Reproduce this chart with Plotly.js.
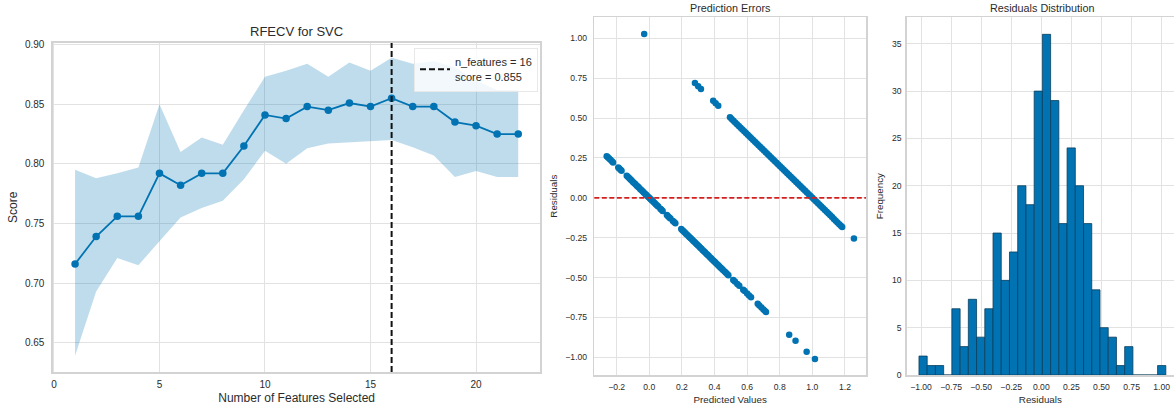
<!DOCTYPE html>
<html>
<head>
<meta charset="utf-8">
<script src="https://cdn.plot.ly/plotly-3.0.1.min.js"></script>
<style>html,body{margin:0;padding:0;background:#fff;}#chart{width:1174px;height:410px;}</style>
</head>
<body>
<div id="chart"></div>
<script>
// ---------- Panel 1: RFECV for SVC ----------
const nFeatures = [1,2,3,4,5,6,7,8,9,10,11,12,13,14,15,16,17,18,19,20,21,22];
const scoreMean = [0.716,0.739,0.756,0.756,0.792,0.782,0.792,0.792,0.815,0.841,0.838,0.848,0.845,0.851,0.848,0.855,0.848,0.848,0.835,0.832,0.825,0.825];
const scoreUpper = [0.795,0.788,0.792,0.797,0.850,0.810,0.822,0.816,0.845,0.873,0.878,0.884,0.873,0.885,0.878,0.889,0.884,0.886,0.881,0.870,0.862,0.862];
const scoreLower = [0.639,0.693,0.721,0.715,0.735,0.755,0.763,0.769,0.787,0.811,0.800,0.813,0.817,0.818,0.819,0.820,0.814,0.807,0.789,0.794,0.789,0.789];
const bestN = 16;
const bestScore = 0.855;

// ---------- Panel 2: Prediction Errors ----------
// points with true value 0
const predA = [-0.261,-0.254,-0.246,-0.238,-0.229,-0.222,-0.190,-0.184,-0.176,-0.170,-0.138,-0.130,-0.122,-0.115,-0.108,-0.100,-0.093,-0.086,-0.078,-0.071,-0.064,-0.056,-0.049,-0.041,-0.034,-0.026,-0.019,-0.012,-0.004,0.003,0.010,0.017,0.025,0.033,0.040,0.048,0.055,0.068,0.075,0.082,0.108,0.115,0.123,0.130,0.145,0.152,0.160,0.196,0.203,0.210,0.218,0.225,0.232,0.240,0.247,0.254,0.262,0.269,0.276,0.284,0.291,0.298,0.306,0.313,0.320,0.328,0.335,0.342,0.350,0.357,0.364,0.372,0.379,0.386,0.394,0.401,0.408,0.416,0.423,0.430,0.438,0.445,0.452,0.462,0.470,0.478,0.485,0.515,0.525,0.540,0.552,0.576,0.585,0.600,0.612,0.624,0.665,0.675,0.688,0.700,0.709,0.716,0.858,0.897,0.965,1.016];
const residA = [0.261,0.254,0.246,0.238,0.229,0.222,0.190,0.184,0.176,0.170,0.138,0.130,0.122,0.115,0.108,0.100,0.093,0.086,0.078,0.071,0.064,0.056,0.049,0.041,0.034,0.026,0.019,0.012,0.004,-0.003,-0.010,-0.017,-0.025,-0.033,-0.040,-0.048,-0.055,-0.068,-0.075,-0.082,-0.108,-0.115,-0.123,-0.130,-0.145,-0.152,-0.160,-0.196,-0.203,-0.210,-0.218,-0.225,-0.232,-0.240,-0.247,-0.254,-0.262,-0.269,-0.276,-0.284,-0.291,-0.298,-0.306,-0.313,-0.320,-0.328,-0.335,-0.342,-0.350,-0.357,-0.364,-0.372,-0.379,-0.386,-0.394,-0.401,-0.408,-0.416,-0.423,-0.430,-0.438,-0.445,-0.452,-0.462,-0.470,-0.478,-0.485,-0.515,-0.525,-0.540,-0.552,-0.576,-0.585,-0.600,-0.612,-0.624,-0.665,-0.675,-0.688,-0.700,-0.709,-0.716,-0.858,-0.897,-0.965,-1.010];
// points with true value 1
const predB = [0.280,0.300,0.317,0.392,0.407,0.423,0.495,0.505,0.516,0.527,0.538,0.549,0.560,0.571,0.582,0.593,0.604,0.615,0.626,0.637,0.648,0.659,0.670,0.681,0.692,0.703,0.714,0.725,0.736,0.747,0.758,0.769,0.780,0.791,0.802,0.813,0.824,0.835,0.846,0.857,0.868,0.879,0.890,0.901,0.912,0.923,0.934,0.945,0.956,0.967,0.978,0.989,1.000,1.011,1.022,1.033,1.044,1.055,1.066,1.077,1.088,1.099,1.110,1.121,1.132,1.143,1.154,1.165,1.175,1.183,1.255,-0.031];
const residB = [0.720,0.700,0.683,0.608,0.593,0.577,0.505,0.495,0.484,0.473,0.462,0.451,0.440,0.429,0.418,0.407,0.396,0.385,0.374,0.363,0.352,0.341,0.330,0.319,0.308,0.297,0.286,0.275,0.264,0.253,0.242,0.231,0.220,0.209,0.198,0.187,0.176,0.165,0.154,0.143,0.132,0.121,0.110,0.099,0.088,0.077,0.066,0.055,0.044,0.033,0.022,0.011,0.000,-0.011,-0.022,-0.033,-0.044,-0.055,-0.066,-0.077,-0.088,-0.099,-0.110,-0.121,-0.132,-0.143,-0.154,-0.165,-0.175,-0.183,-0.255,1.027];

// ---------- Panel 3: Residuals Distribution ----------
const histCounts = [2,1,1,0,7,3,8,4,7,15,10,13,20,18,30,36,29,16,24,20,16,9,5,4,1,3,0,0,0,1];
const binStart = -1.017;
const binWidth = 0.0684;

// ---------- styles ----------
const BLUE = '#0173B2';
const FONT = 'Arial, "Liberation Sans", Helvetica, sans-serif';
const TXT = '#2b2b2b';
const GRID = '#e2e2e2';
const SPINE = '#d3d3d3';
const W = 1174, H = 410;
const px = v => v / W;
const py = v => 1 - v / H;

const rfecvRange = [0.6254, 0.9016];
const binCenters = histCounts.map((c, i) => binStart + (i + 0.5) * binWidth);

const traces = [
  {x: nFeatures, y: scoreLower, type: 'scatter', mode: 'lines', line: {width: 0, color: BLUE},
   showlegend: false, hoverinfo: 'skip', xaxis: 'x', yaxis: 'y'},
  {x: nFeatures, y: scoreUpper, type: 'scatter', mode: 'lines', line: {width: 0, color: BLUE},
   fill: 'tonexty', fillcolor: 'rgba(1,115,178,0.25)', showlegend: false, hoverinfo: 'skip', xaxis: 'x', yaxis: 'y'},
  {x: nFeatures, y: scoreMean, type: 'scatter', mode: 'lines+markers', line: {width: 1.8, color: BLUE},
   marker: {size: 7.5, color: BLUE}, showlegend: false, xaxis: 'x', yaxis: 'y'},
  {x: [bestN, bestN], y: rfecvRange, type: 'scatter', mode: 'lines',
   line: {width: 2, color: '#111', dash: '6px,3px'},
   name: 'n_features = ' + bestN + '<br>score = ' + bestScore.toFixed(3), showlegend: true, xaxis: 'x', yaxis: 'y'},
  {x: predA, y: residA, type: 'scatter', mode: 'markers', marker: {size: 6.5, color: BLUE},
   showlegend: false, xaxis: 'x2', yaxis: 'y2'},
  {x: predB, y: residB, type: 'scatter', mode: 'markers', marker: {size: 6.5, color: BLUE},
   showlegend: false, xaxis: 'x2', yaxis: 'y2'},
  {x: binCenters, y: histCounts, type: 'bar', width: binWidth,
   marker: {color: BLUE, line: {color: '#0b3f5e', width: 0.8}}, showlegend: false, xaxis: 'x3', yaxis: 'y3'}
];

const axBase = {
  showgrid: true, gridcolor: GRID, gridwidth: 1, zeroline: false,
  showline: true, linecolor: SPINE, linewidth: 1.5, mirror: true, ticks: '',
};

const layout = {
  width: W, height: H,
  margin: {l: 0, r: 0, t: 0, b: 0, pad: 0},
  paper_bgcolor: '#fff', plot_bgcolor: '#fff',
  font: {family: FONT, color: TXT},
  showlegend: true,
  legend: {x: px(414), y: py(47.5), xanchor: 'left', yanchor: 'top',
    bgcolor: 'rgba(255,255,255,0.8)', bordercolor: '#e8e8e8', borderwidth: 1,
    font: {size: 11, family: FONT, color: TXT}, itemwidth: 30, tracegroupgap: 0},
  xaxis: Object.assign({}, axBase, {domain: [px(52.9), px(540.4)], range: [-0.05, 23.05], dtick: 5, tick0: 0,
    anchor: 'y', tickfont: {size: 10, color: TXT}, ticklabelstandoff: 2,
    title: {text: 'Number of Features Selected', font: {size: 12, color: TXT}, standoff: 5}}),
  yaxis: Object.assign({}, axBase, {domain: [py(372), py(42.7)], range: rfecvRange, dtick: 0.05, tick0: 0.65,
    tickformat: '.2f', anchor: 'x', tickfont: {size: 10, color: TXT}, ticklabelstandoff: 5,
    title: {text: 'Score', font: {size: 12, color: TXT}, standoff: 4}}),
  xaxis2: Object.assign({}, axBase, {domain: [px(594.3), px(866)], range: [-0.337, 1.329], dtick: 0.2, tick0: 0,
    tickformat: '.1f', anchor: 'y2', tickfont: {size: 8.6, color: TXT}, ticklabelstandoff: 3,
    title: {text: 'Predicted Values', font: {size: 9.8, color: TXT}, standoff: 5}}),
  yaxis2: Object.assign({}, axBase, {domain: [py(375), py(17.3)], range: [-1.111, 1.132], dtick: 0.25, tick0: 0,
    tickformat: '.2f', anchor: 'x2', tickfont: {size: 8.6, color: TXT}, ticklabelstandoff: 4,
    title: {text: 'Residuals', font: {size: 9.8, color: TXT}, standoff: 6}}),
  xaxis3: Object.assign({}, axBase, {domain: [px(906.7), 1], range: [-1.119, 1.103], dtick: 0.25, tick0: 0,
    tickformat: '.2f', anchor: 'y3', tickfont: {size: 8.6, color: TXT}, ticklabelstandoff: 3,
    title: {text: 'Residuals', font: {size: 9.8, color: TXT}, standoff: 5}}),
  yaxis3: Object.assign({}, axBase, {domain: [py(375), py(17.3)], range: [0, 37.8], dtick: 5, tick0: 0,
    anchor: 'x3', mirror: false, tickfont: {size: 8.6, color: TXT}, ticklabelstandoff: 2,
    title: {text: 'Frequency', font: {size: 9.8, color: TXT}, standoff: 6}}),
  bargap: 0,
  shapes: [
    {type: 'line', xref: 'x2 domain', yref: 'y2', x0: 0, x1: 1, y0: 0, y1: 0,
     line: {color: '#d41f1f', width: 1.8, dash: '5px,2.5px'}}
  ],
  annotations: [
    {text: 'RFECV for SVC', xref: 'paper', yref: 'paper', x: px(296.6), y: py(31.7), xanchor: 'center', yanchor: 'middle',
     showarrow: false, font: {size: 13, color: TXT}},
    {text: 'Prediction Errors', xref: 'paper', yref: 'paper', x: px(730.5), y: py(7.5), xanchor: 'center', yanchor: 'middle',
     showarrow: false, font: {size: 10.8, color: TXT}},
    {text: 'Residuals Distribution', xref: 'paper', yref: 'paper', x: px(1042.3), y: py(7.5), xanchor: 'center', yanchor: 'middle',
     showarrow: false, font: {size: 10.8, color: TXT}}
  ]
};

Plotly.newPlot('chart', traces, layout, {displayModeBar: false, staticPlot: true});
</script>
</body>
</html>
